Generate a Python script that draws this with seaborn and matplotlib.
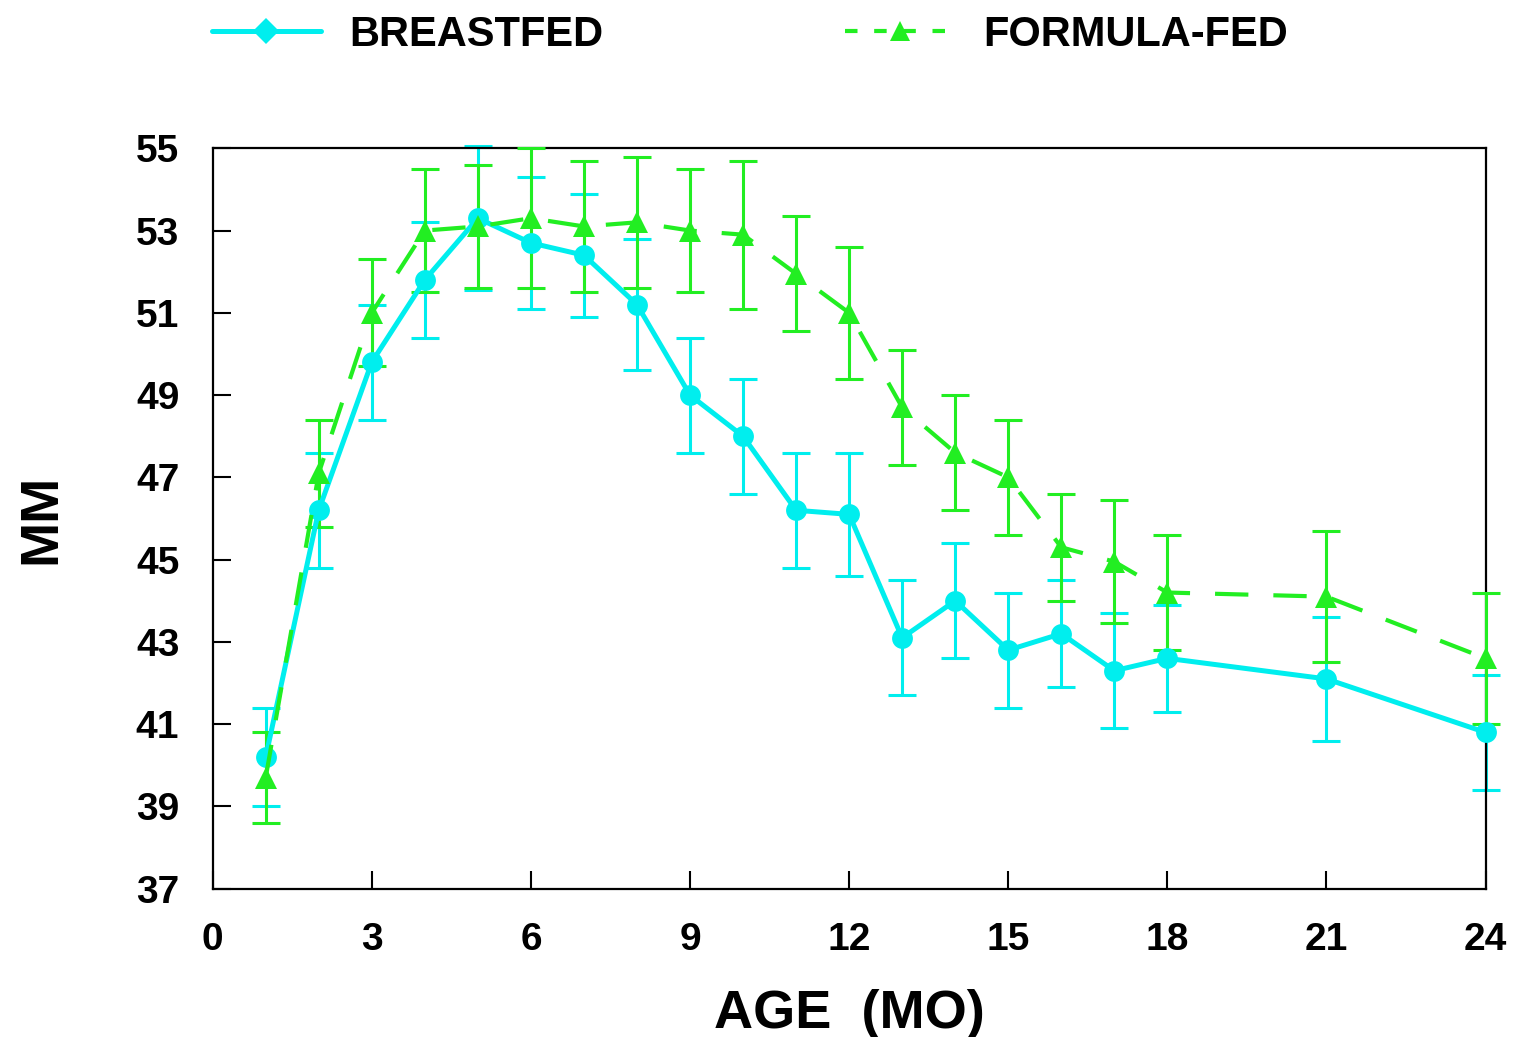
"""Head circumference style chart: breastfed vs formula-fed, mean +/- error by age."""
import numpy as np
import pandas as pd
import matplotlib
matplotlib.use('Agg')
import matplotlib.pyplot as plt
from matplotlib.lines import Line2D
import seaborn as sns

# data
age = [1, 2, 3, 4, 5, 6, 7, 8, 9, 10, 11, 12, 13, 14, 15, 16, 17, 18, 21, 24]
breastfed = [40.2, 46.2, 49.8, 51.8, 53.3, 52.7, 52.4, 51.2, 49.0, 48.0,
             46.2, 46.1, 43.1, 44.0, 42.8, 43.2, 42.3, 42.6, 42.1, 40.8]
breastfed_err = [1.2, 1.4, 1.4, 1.4, 1.75, 1.6, 1.5, 1.6, 1.4, 1.4,
                 1.4, 1.5, 1.4, 1.4, 1.4, 1.3, 1.4, 1.3, 1.5, 1.4]
formula = [39.7, 47.1, 51.0, 53.0, 53.1, 53.3, 53.1, 53.2, 53.0, 52.9,
           51.95, 51.0, 48.7, 47.6, 47.0, 45.3, 44.95, 44.2, 44.1, 42.6]
formula_err = [1.1, 1.3, 1.3, 1.5, 1.5, 1.7, 1.6, 1.6, 1.5, 1.8,
               1.4, 1.6, 1.4, 1.4, 1.4, 1.3, 1.5, 1.4, 1.6, 1.6]

x_ticks = list(range(0, 25, 3))
y_ticks = list(range(37, 56, 2))
labels = ['BREASTFED', 'FORMULA-FED']

CYAN = '#00EEEE'
GREEN = '#22EE22'

sns.set_style('ticks')
plt.rcParams['font.family'] = ['Liberation Sans', 'DejaVu Sans']
plt.rcParams['font.weight'] = 'bold'
for k in ['text.color', 'axes.labelcolor', 'xtick.color', 'ytick.color']:
    plt.rcParams[k] = 'black'

df = pd.DataFrame({
    'age': age * 2,
    'mm': breastfed + formula,
    'group': [labels[0]] * len(age) + [labels[1]] * len(age),
})

fig = plt.figure(figsize=(15.19, 10.37), dpi=100)
ax = fig.add_axes([0.140, 0.143, 0.838, 0.714])

# error bars first
eb1 = ax.errorbar(age, breastfed, yerr=breastfed_err, fmt='none', ecolor=CYAN,
                  elinewidth=2.2, capsize=10, capthick=2.2, zorder=2)
eb2 = ax.errorbar(age, formula, yerr=formula_err, fmt='none', ecolor=GREEN,
                  elinewidth=2.2, capsize=10, capthick=2.2, zorder=3)

sns.lineplot(data=df[df['group'] == labels[0]], x='age', y='mm', ax=ax,
             color=CYAN, lw=3.6, marker='o', markersize=15,
             markeredgewidth=0, legend=False, zorder=4)
sns.lineplot(data=df[df['group'] == labels[1]], x='age', y='mm', ax=ax,
             color=GREEN, lw=3.0, marker='^', markersize=16,
             markeredgewidth=0, legend=False, zorder=5,
             dashes=False, linestyle=(0, (8, 6)))
for ln in ax.lines:
    ln.set_clip_on(False)
for eb in (eb1, eb2):
    for art in eb.lines[1] + eb.lines[2]:
        art.set_clip_on(False)

ax.set_xlim(0, 24)
ax.set_ylim(37, 55)
ax.set_xticks(x_ticks)
ax.set_yticks(y_ticks)
ax.tick_params(direction='in', length=13, width=1.5, labelsize=28, pad=24,
               top=False, right=False, colors='black')
for lab in ax.get_xticklabels() + ax.get_yticklabels():
    lab.set_fontweight('bold')
for s in ax.spines.values():
    s.set_linewidth(1.6)
    s.set_color('black')
    s.set_visible(True)

ax.set_xlabel('AGE  (MO)', fontsize=39, fontweight='bold', labelpad=22)
ax.set_ylabel('MM', fontsize=39, fontweight='bold', labelpad=50)

handles = [
    Line2D([], [], color=CYAN, lw=3.6, marker='D', markersize=13, markeredgewidth=0),
    Line2D([], [], color=GREEN, lw=3.0, linestyle=(0, (3, 4)), marker='^',
           markersize=15, markeredgewidth=0),
]
fig.legend(handles, labels, loc='upper left', bbox_to_anchor=(0.115, 1.022),
           ncol=2, frameon=False, prop={'size': 30, 'weight': 'bold'},
           handlelength=2.6, handletextpad=0.7, columnspacing=5.8)

fig.savefig('out.png', dpi=100)
